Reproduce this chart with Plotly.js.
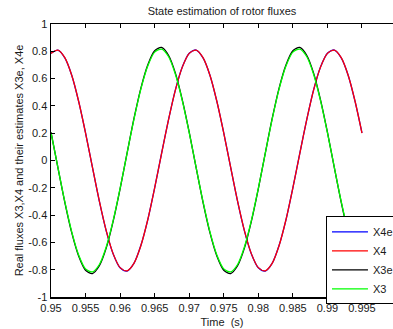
<!DOCTYPE html>
<html>
<head>
<meta charset="utf-8">
<script src="https://cdn.plot.ly/plotly-3.0.1.min.js"></script>
<style>html,body{margin:0;padding:0;background:#fff;overflow:hidden}#chart{width:393px;height:329px}</style>
</head>
<body>
<div id="chart"></div>
<script>
// Time samples (s)
const time = [0.950,0.951,0.952,0.953,0.954,0.955,0.956,0.957,0.958,0.959,
              0.960,0.961,0.962,0.963,0.964,0.965,0.966,0.967,0.968,0.969,
              0.970,0.971,0.972,0.973,0.974,0.975,0.976,0.977,0.978,0.979,
              0.980,0.981,0.982,0.983,0.984,0.985,0.986,0.987,0.988,0.989,
              0.990,0.991,0.992,0.993,0.994,0.995];

// Estimated rotor flux X4e
const x4e = [0.786,0.809,0.752,0.625,0.433,0.202,-0.050,-0.299,-0.517,-0.685,
             -0.786,-0.810,-0.754,-0.623,-0.435,-0.200,0.052,0.297,0.517,0.685,
             0.786,0.809,0.752,0.625,0.433,0.202,-0.050,-0.299,-0.517,-0.685,
             -0.786,-0.810,-0.754,-0.623,-0.435,-0.200,0.052,0.297,0.517,0.685,
             0.786,0.809,0.752,0.625,0.433,0.202];

// Real rotor flux X4
const x4 = [0.785,0.808,0.753,0.624,0.434,0.201,-0.051,-0.298,-0.516,-0.684,
            -0.785,-0.808,-0.753,-0.624,-0.434,-0.201,0.051,0.298,0.516,0.684,
            0.785,0.808,0.753,0.624,0.434,0.201,-0.051,-0.298,-0.516,-0.684,
            -0.785,-0.808,-0.753,-0.624,-0.434,-0.201,0.051,0.298,0.516,0.684,
            0.785,0.808,0.753,0.624,0.434,0.201];

// Estimated rotor flux X3e
const x3e = [0.207,-0.052,-0.306,-0.529,-0.700,-0.804,-0.828,-0.771,-0.640,-0.444,
             -0.207,0.052,0.306,0.529,0.700,0.804,0.828,0.771,0.640,0.444,
             0.207,-0.052,-0.306,-0.529,-0.700,-0.804,-0.828,-0.771,-0.640,-0.444,
             -0.207,0.052,0.306,0.529,0.700,0.804,0.828,0.771,0.640,0.444,
             0.207,-0.052,-0.306,-0.529,-0.700,-0.804];

// Real rotor flux X3
const x3 = [0.204,-0.051,-0.302,-0.523,-0.692,-0.794,-0.816,-0.762,-0.632,-0.439,
            -0.204,0.051,0.302,0.523,0.692,0.794,0.816,0.762,0.632,0.439,
            0.204,-0.051,-0.302,-0.523,-0.692,-0.794,-0.816,-0.762,-0.632,-0.439,
            -0.204,0.051,0.302,0.523,0.692,0.794,0.816,0.762,0.632,0.439,
            0.204,-0.051,-0.302,-0.523,-0.692,-0.794];

const seriesNames = ['X4e','X4','X3e','X3'];
const seriesColors = ['#0000ff','#ff0000','#000000','#00ff00'];
const seriesData = [x4e, x4, x3e, x3];

const xTickVals = [0.95,0.955,0.96,0.965,0.97,0.975,0.98,0.985,0.99,0.995];
const xTickText = ['0.95','0.955','0.96','0.965','0.97','0.975','0.98','0.985','0.99','0.995'];
const yTickVals = [-1,-0.8,-0.6,-0.4,-0.2,0,0.2,0.4,0.6,0.8,1];
const yTickText = ['-1','-0.8','-0.6','-0.4','-0.2','0','0.2','0.4','0.6','0.8','1'];

const traces = seriesData.map((d, i) => ({
  x: time, y: d, type: 'scatter', mode: 'lines', name: seriesNames[i],
  line: {color: seriesColors[i], width: 1.3, shape: 'spline', smoothing: 0.8}
}));

const fnt = {family: 'Liberation Sans, Arial, sans-serif', size: 11, color: '#1a1a1a'};

const layout = {
  width: 393, height: 329,
  margin: {l: 51, r: 0, t: 24, b: 32, pad: 0, autoexpand: false},
  paper_bgcolor: '#ffffff', plot_bgcolor: '#ffffff',
  font: fnt,
  showlegend: true,
  title: {text: 'State estimation of rotor fluxes', font: {family: fnt.family, size: 11, color: '#1a1a1a'},
          x: 0.5, xref: 'paper', y: 0.965, yref: 'container', xanchor: 'center', yanchor: 'middle'},
  xaxis: {
    range: [0.95, 0.99949], tickmode: 'array', tickvals: xTickVals, ticktext: xTickText,
    ticks: 'inside', ticklen: 4, tickcolor: '#000', tickwidth: 1,
    showline: true, linecolor: '#000', linewidth: 1.5, mirror: 'ticks',
    showgrid: false, zeroline: false, tickfont: fnt,
    title: {text: 'Time  (s)', font: fnt, standoff: 5}
  },
  yaxis: {
    range: [-1, 1], tickmode: 'array', tickvals: yTickVals, ticktext: yTickText,
    ticks: 'inside', ticklen: 4, tickcolor: '#000', tickwidth: 1,
    showline: true, linecolor: '#000', linewidth: 1.5, mirror: false,
    showgrid: false, zeroline: false, tickfont: fnt,
    title: {text: 'Real fluxes X3,X4 and their estimates X3e, X4e', font: fnt, standoff: 2}
  },
  legend: {
    x: 0.804, y: 0.295, xanchor: 'left', yanchor: 'top',
    bgcolor: '#ffffff', bordercolor: '#000000', borderwidth: 1,
    font: fnt, tracegroupgap: 0, itemwidth: 36
  }
};

Plotly.newPlot('chart', traces, layout, {displayModeBar: false, staticPlot: true});
</script>
</body>
</html>
